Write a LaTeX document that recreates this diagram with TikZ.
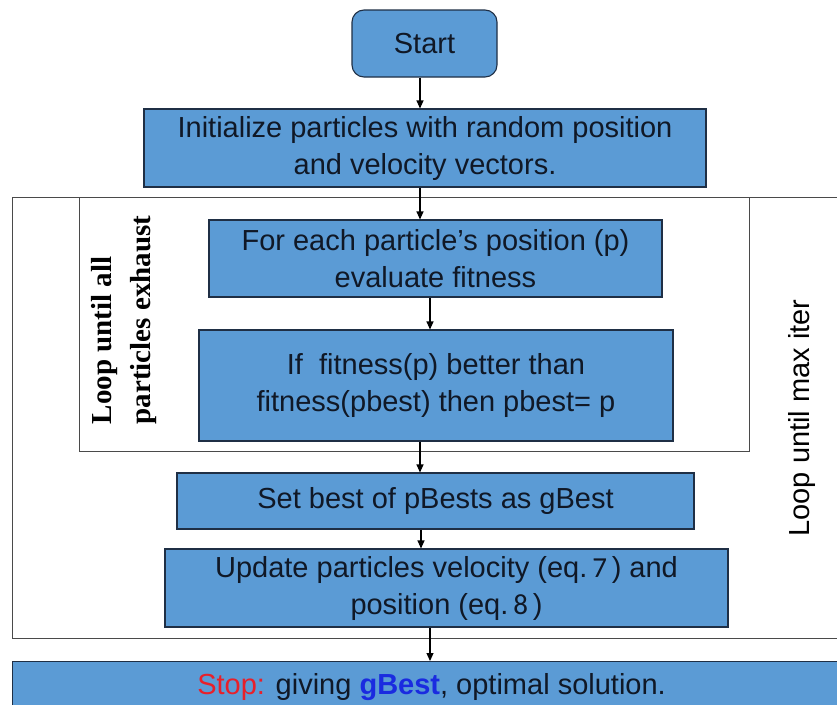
\documentclass[tikz,border=0pt]{standalone}
\usepackage{fontspec}
\setmainfont{Liberation Sans}
\newfontfamily\digitfont{Carlito}
\newfontfamily\serifbold{Liberation Serif}[BoldFont={Liberation Serif Bold}]
\usetikzlibrary{arrows.meta}
\definecolor{boxfill}{HTML}{5B9BD5}
\definecolor{boxline}{HTML}{1F2F45}
\definecolor{boxtext}{HTML}{101826}
\definecolor{framegray}{HTML}{4A4A4A}
\definecolor{stopred}{HTML}{E8202A}
\definecolor{gbestblue}{HTML}{1A2BE0}
\tikzset{
  stepbox/.style={draw=boxline, line width=1.1pt, fill=boxfill, inner sep=0pt,
    align=center, text=boxtext, font=\fontsize{29}{37}\selectfont},
  frame/.style={draw=framegray, line width=1.3pt, inner sep=0pt},
  innerframe/.style={draw=framegray, line width=0.9pt, inner sep=0pt},
  arr/.style={draw=black, line width=1.1pt, -{Triangle[length=8pt,width=7pt]}},
  sidelabel/.style={inner sep=0pt, rotate=90},
}
\begin{document}
\begin{tikzpicture}[x=1pt,y=-1pt]
\useasboundingbox (0,0) rectangle (837,704);
\clip (0,0) rectangle (837,704);
% frames
\node[frame, anchor=north west, minimum width=850, minimum height=441] (outer) at (12,197) {};
\node[innerframe, anchor=north west, minimum width=670, minimum height=254] (inner) at (79,197) {};
% boxes
\node[stepbox, rounded corners=12pt, minimum width=145, minimum height=67] (start) at (424.5,43.5) {Start};
\node[stepbox, minimum width=562, minimum height=78] (init) at (425,148) {Initialize particles with random position\\and velocity vectors.};
\node[stepbox, minimum width=453, minimum height=77] (foreach) at (435.5,258.5) {For each particle's position (p)\\evaluate fitness};
\node[stepbox, minimum width=474, minimum height=111] (iff) at (436,385.5) {If\ \ fitness(p) better than\\fitness(pbest) then pbest= p};
\node[stepbox, minimum width=517, minimum height=56] (setb) at (435.5,501) {Set best of pBests as gBest};
\node[stepbox, minimum width=563, minimum height=78] (upd) at (446.5,588) {Update particles velocity (eq.\,{\digitfont 7}\,) and\\position (eq.\,{\digitfont 8}\,)};
\node[stepbox, anchor=north west, minimum width=838, minimum height=52] (stop) at (12,661) {\textcolor{stopred}{Stop:} giving \textcolor{gbestblue}{\bfseries gBest}, optimal solution.};
% side labels
\node[sidelabel, align=left, font=\serifbold\bfseries\fontsize{29}{39}\selectfont] (loopall) at (124,320) {Loop until all\\particles exhaust};
\node[sidelabel, font=\fontsize{29}{36}\selectfont] (loopmax) at (802,418) {Loop until max iter};
% arrows
\draw[arr] ([xshift=-4.5]start.south) -- ([xshift=-4.5]start.south |- init.north);
\draw[arr] ([xshift=-5]init.south) -- ([xshift=-5]init.south |- foreach.north);
\draw[arr] ([xshift=-5.5]foreach.south) -- ([xshift=-5.5]foreach.south |- iff.north);
\draw[arr] ([xshift=-16]iff.south) -- ([xshift=-16]iff.south |- setb.north);
\draw[arr] ([xshift=-14.5]setb.south) -- ([xshift=-14.5]setb.south |- upd.north);
\draw[arr] ([xshift=-16.5]upd.south) -- ([xshift=-16.5]upd.south |- stop.north);
\end{tikzpicture}
\end{document}
